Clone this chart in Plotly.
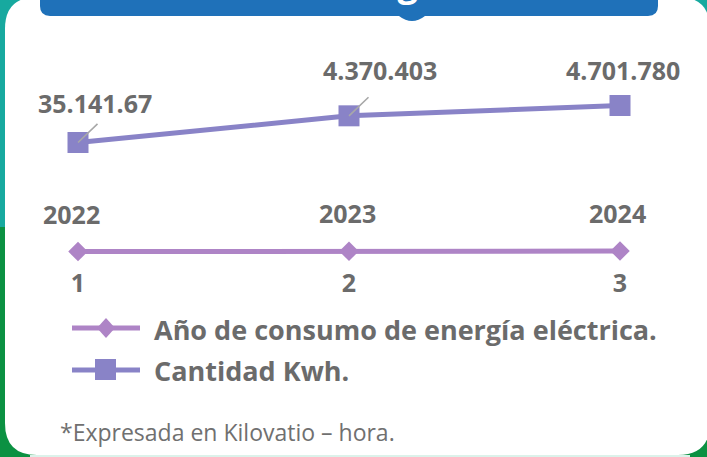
import plotly.graph_objects as go

W, H = 707, 457

# ---- data ----
x_pos = [1, 2, 3]
tick_labels = ["1", "2", "3"]
years = [2022, 2023, 2024]
kwh = [3514167, 4370403, 4701780]
kwh_labels = ["35.141.67", "4.370.403", "4.701.780"]
series_names = ["Año de consumo de energía eléctrica.", "Cantidad Kwh."]
title_text = "Consumo de energía eléctrica"
footnote = "*Expresada en Kilovatio – hora."

# ---- styles ----
C_YEAR = "#AE84C6"
C_KWH = "#8983C7"
C_TEXT = "#6B6B6B"
FONT = "Open Sans"
label_dx = [17, 31, 3]
label_dy = [40, 46, 36]
leader_show = [True, True, False]
year_dx = [-7, -2, -3]


def px(x):
    return x / W


def py(y):
    return 1 - y / H


def pt(x, y):
    return f"{px(x):.5f},{py(y):.5f}"


def rounded_rect(x0, y0, x1, y1, r):
    return (f"M{pt(x0 + r, y0)} L{pt(x1 - r, y0)} Q{pt(x1, y0)} {pt(x1, y0 + r)} "
            f"L{pt(x1, y1 - r)} Q{pt(x1, y1)} {pt(x1 - r, y1)} L{pt(x0 + r, y1)} "
            f"Q{pt(x0, y1)} {pt(x0, y1 - r)} L{pt(x0, y0 + r)} Q{pt(x0, y0)} {pt(x0 + r, y0)} Z")


fig = go.Figure()
fig.add_trace(go.Scatter(
    x=x_pos, y=years, yaxis="y2", mode="lines+markers", name=series_names[0],
    line=dict(color=C_YEAR, width=5),
    marker=dict(symbol="diamond", size=15, color=C_YEAR),
    showlegend=False, hoverinfo="skip"))
fig.add_trace(go.Scatter(
    x=x_pos, y=kwh, mode="lines+markers", name=series_names[1],
    line=dict(color=C_KWH, width=5),
    marker=dict(symbol="square", size=21, color=C_KWH),
    showlegend=False, hoverinfo="skip"))

shapes = []
# background green lower part
shapes.append(dict(type="rect", xref="paper", yref="paper", x0=0, x1=1, y0=0, y1=py(227),
                   fillcolor="#0B9142", line=dict(width=0), layer="below"))
# mint strip at bottom
shapes.append(dict(type="rect", xref="paper", yref="paper", x0=px(30), x1=px(690), y0=0, y1=py(455),
                   fillcolor="#DCF2EA", line=dict(width=0), layer="below"))
# white card
shapes.append(dict(type="path", xref="paper", yref="paper", path=rounded_rect(5, -3, 710, 455, 32),
                   fillcolor="white", line=dict(width=0), layer="below"))
# title banner
banner = (f"M{pt(40, -10)} L{pt(658, -10)} L{pt(658, 6)} Q{pt(658, 16)} {pt(648, 16)} "
          f"L{pt(425, 16)} Q{pt(412, 26)} {pt(399, 16)} "
          f"L{pt(50, 16)} Q{pt(40, 16)} {pt(40, 6)} Z")
shapes.append(dict(type="path", xref="paper", yref="paper", path=banner,
                   fillcolor="#1F71B9", line=dict(width=0), layer="below"))

# legend glyphs
shapes.append(dict(type="line", xref="paper", yref="paper", x0=px(72), x1=px(140), y0=py(328), y1=py(328),
                   line=dict(color=C_YEAR, width=5)))
shapes.append(dict(type="path", xref="paper", yref="paper",
                   path=f"M{pt(106, 318)} L{pt(115, 328)} L{pt(106, 338)} L{pt(97, 328)} Z",
                   fillcolor=C_YEAR, line=dict(width=0)))
shapes.append(dict(type="line", xref="paper", yref="paper", x0=px(72), x1=px(140), y0=py(370), y1=py(370),
                   line=dict(color=C_KWH, width=5)))
shapes.append(dict(type="rect", xref="paper", yref="paper", x0=px(95), x1=px(116), y0=py(380), y1=py(359),
                   fillcolor=C_KWH, line=dict(width=0)))

ann = []
# title text (mostly cut off at the top, as in the reference)
ann.append(dict(text=f"<b>{title_text}</b>", xref="paper", yref="paper", x=px(349), y=py(9),
                xanchor="center", yanchor="bottom", showarrow=False,
                font=dict(family=FONT, size=36, color="white")))

for i in range(len(x_pos)):
    ann.append(dict(text=f"<b>{kwh_labels[i]}</b>", x=x_pos[i], y=kwh[i], xref="x", yref="y",
                    xshift=label_dx[i], yshift=label_dy[i], showarrow=False,
                    font=dict(family=FONT, size=25, color=C_TEXT)))
    if leader_show[i]:
        ann.append(dict(text=" ", x=x_pos[i], y=kwh[i], xref="x", yref="y",
                        showarrow=True, arrowhead=0, arrowwidth=1.6, arrowcolor="#A8A8A8",
                        ax=21, ay=-20, standoff=0, font=dict(size=1)))
    ann.append(dict(text=f"<b>{years[i]}</b>", x=x_pos[i], y=years[i], xref="x", yref="y2",
                    xshift=year_dx[i], yshift=38, showarrow=False,
                    font=dict(family=FONT, size=25, color=C_TEXT)))

# legend texts
ann.append(dict(text=f"<b>{series_names[0]}</b>", xref="paper", yref="paper", x=px(152), y=py(329),
                xanchor="left", yanchor="middle", showarrow=False,
                font=dict(family=FONT, size=27, color=C_TEXT)))
ann.append(dict(text=f"<b>{series_names[1]}</b>", xref="paper", yref="paper", x=px(152), y=py(370),
                xanchor="left", yanchor="middle", showarrow=False,
                font=dict(family=FONT, size=27, color=C_TEXT)))
# footnote
ann.append(dict(text=footnote, xref="paper", yref="paper", x=px(58), y=py(432),
                xanchor="left", yanchor="middle", showarrow=False,
                font=dict(family=FONT, size=23, color="#707070")))

fig.update_layout(
    width=W, height=H,
    margin=dict(l=0, r=0, t=0, b=0),
    paper_bgcolor="#17A99F",
    plot_bgcolor="rgba(0,0,0,0)",
    showlegend=False,
    hovermode=False,
    xaxis=dict(range=[0.7122, 3.3210], showgrid=False, zeroline=False, showline=False,
               ticks="", tickvals=x_pos, ticktext=tick_labels,
               anchor="free", position=py(252), ticklabelstandoff=14,
               tickfont=dict(family=FONT, size=25, color=C_TEXT, weight="bold"),
               fixedrange=True),
    yaxis=dict(range=[-6580667, 8088119], visible=False, fixedrange=True),
    yaxis2=dict(range=[1338, 2860], overlaying="y", visible=False, fixedrange=True),
    shapes=shapes,
    annotations=ann,
)

fig.write_html("out.html", post_script="document.body.style.margin='0px';",
               config={"displayModeBar": False})
